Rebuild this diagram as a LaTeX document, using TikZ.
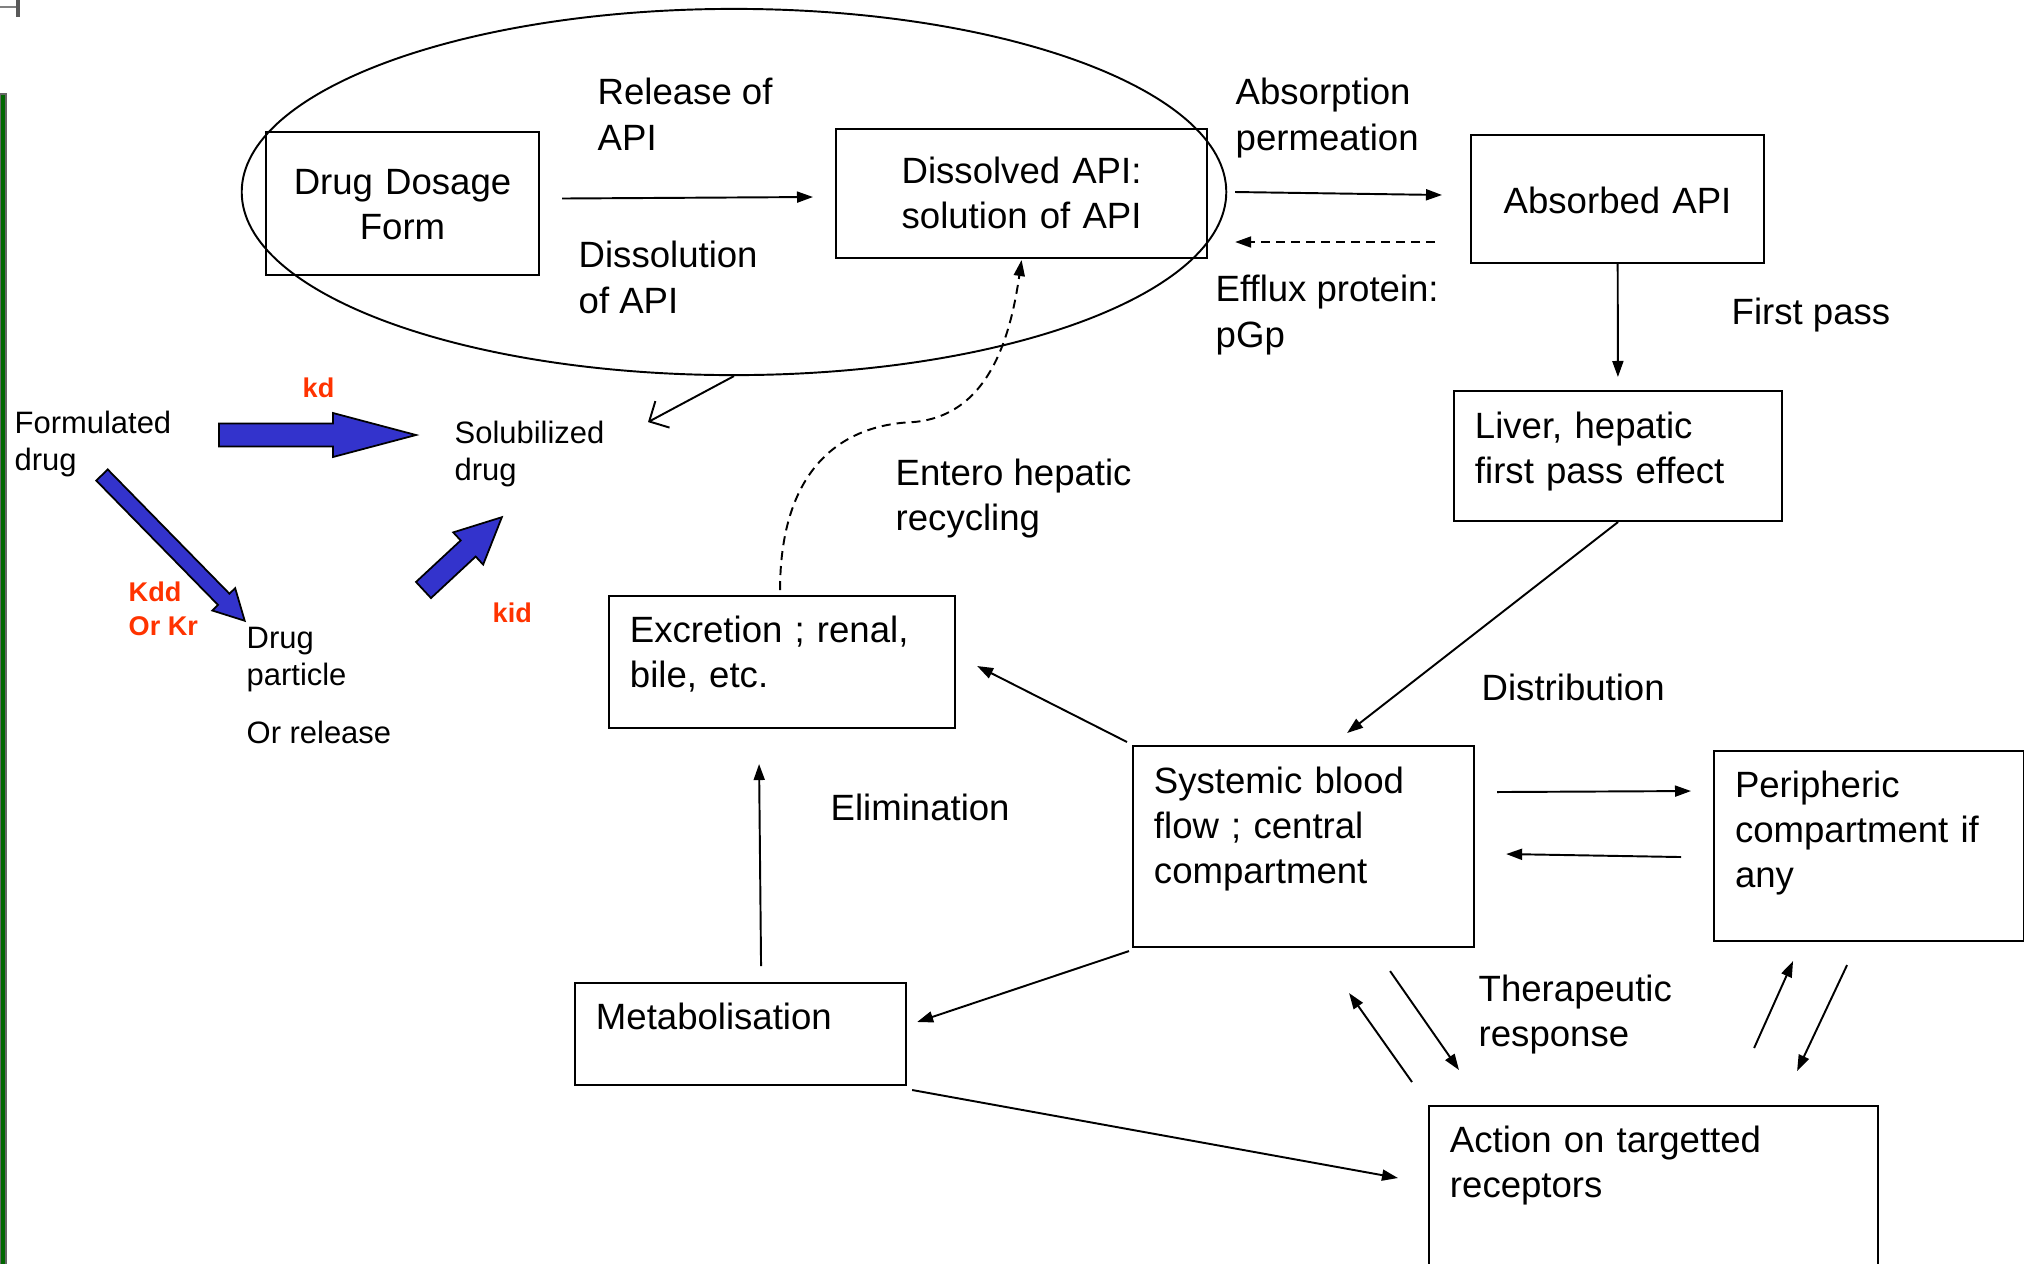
\documentclass[tikz,border=0pt]{standalone}
\usepackage{fontspec}
\setmainfont{Liberation Sans}
\usetikzlibrary{arrows.meta,shapes.geometric}
\definecolor{rateorange}{RGB}{255,51,0}
\definecolor{fatblue}{RGB}{51,51,204}
\definecolor{bargreen}{RGB}{0,102,0}
% block arrow: tail, angle, length, shaft half width, head half width, head length
\newcommand{\fatarrow}[6]{%
  \begin{scope}[shift={(#1)},rotate=#2]
    \draw[blockfill] (0,-#4)--({#3-#6},-#4)--({#3-#6},-#5)--(#3,0)--({#3-#6},#5)--({#3-#6},#4)--(0,#4)--cycle;
  \end{scope}}
\begin{document}
\begin{tikzpicture}[x=0.01cm,y=-0.01cm,
    box/.style={draw,line width=0.55pt,anchor=north west,inner xsep=0.21cm,inner ysep=0pt,align=left,font=\fontsize{10.4}{12.8}\selectfont},
    lbl/.style={anchor=base west,inner sep=0pt,align=left,font=\fontsize{10.4}{12.8}\selectfont},
    smalllbl/.style={lbl,font=\fontsize{8.8}{10.5}\selectfont},
    ratelbl/.style={lbl,text=rateorange,font=\fontsize{7.7}{9.4}\selectfont\bfseries},
    arr/.style={-{Triangle[length=0.16cm,width=0.11cm]},line width=0.55pt},
    efflux/.style={arr,dash pattern=on 0.09cm off 0.06cm},
    blockfill/.style={fill=fatblue,draw=black,line width=0.5pt}]
    \useasboundingbox (0,0) rectangle (2024,1263);
    \filldraw[fill=bargreen,draw=black!60,line width=0.4pt] (0,94) rectangle (6,1270);
    \draw[gray,line width=0.8pt] (0,7) -- (17,7);
    \draw[gray!70!black,line width=1.2pt] (18,0) -- (18,17);

    \node[draw,ellipse,line width=0.55pt,minimum width=9.84cm,minimum height=3.66cm,inner sep=0pt] (vessel) at (734,192) {};
    \node[box,text width=2.31cm,align=center,text height=0.62cm,text depth=0.81cm] (dosage) at (265,131) {Drug Dosage\\Form};
    \node[box,text width=3.29cm,align=center,text height=0.54cm,text depth=0.75cm] (dissolved) at (835,128) {Dissolved API:\\solution of API};
    \node[box,text width=2.51cm,align=center,text height=0.78cm,text depth=0.50cm] (absorbed) at (1470,134) {Absorbed API};
    \node[box,text width=2.86cm,text height=0.47cm,text depth=0.83cm] (liver) at (1453,390) {Liver, hepatic\\first pass effect};
    \node[box,text width=3.04cm,text height=0.46cm,text depth=0.86cm] (excretion) at (608,595) {Excretion ; renal,\\bile, etc.};
    \node[box,text width=2.99cm,text height=0.47cm,text depth=1.54cm] (systemic) at (1132,745) {Systemic blood\\flow ; central\\compartment};
    \node[box,text width=2.68cm,text height=0.46cm,text depth=1.44cm] (peripheric) at (1713,750) {Peripheric\\compartment if\\any};
    \node[box,text width=2.89cm,text height=0.46cm,text depth=0.56cm] (metab) at (574,982) {Metabolisation};
    \node[box,text width=4.07cm,text height=0.46cm,text depth=2.5cm] (action) at (1428,1105) {Action on targetted\\receptors};

    % labels sit on the baseline of their last line
    \node[lbl] (release) at (597,150) {Release of\\API};
    \node[lbl] (dissolution) at (578,313) {Dissolution\\of API};
    \node[lbl] (absorption) at (1235,150) {Absorption\\permeation};
    \node[lbl] (effluxlbl) at (1215,347) {Efflux protein:\\pGp};
    \node[lbl] (firstpass) at (1731,324) {First pass};
    \node[lbl] (entero) at (895,530) {Entero hepatic\\recycling};
    \node[lbl] (distribution) at (1481,700) {Distribution};
    \node[lbl] (elimination) at (830,820) {Elimination};
    \node[lbl] (therapeutic) at (1478,1046) {Therapeutic\\response};
    \node[smalllbl] (formulated) at (14,470) {Formulated\\drug};
    \node[smalllbl] (solubilized) at (454,480) {Solubilized\\drug};
    \node[smalllbl] (particle) at (246,685) {Drug\\particle};
    \node[smalllbl] (orrelease) at (246,743) {Or release};
    \node[ratelbl] (kd) at (302,397) {kd};
    \node[ratelbl] (kdd) at (128,635) {Kdd\\Or Kr};
    \node[ratelbl] (kid) at (492,622) {kid};

    \coordinate (kdtail) at (219,435);
    \coordinate (kddtail) at (102,475);
    \coordinate (kidtail) at (423.5,590);
    \fatarrow{kdtail}{0}{197}{11.5}{22}{83}
    \fatarrow{kddtail}{-45.6}{204}{8}{16}{30}
    \fatarrow{kidtail}{42.9}{107}{11}{22}{46}

    \draw[arr] ([shift={(22,-5)}]dosage.east) -- ([shift={(-22,3.5)}]dissolved.west);
    \draw[arr] ([shift={(27,-1.5)}]dissolved.east) -- ([shift={(-28,-4)}]absorbed.west);
    \draw[efflux] ([shift={(-35,43)}]absorbed.west) -- ([shift={(27,48.5)}]dissolved.east);
    \draw[arr,shorten >=0.13cm] (absorbed) -- (liver);
    \draw[arr] (liver.south) -- ([shift={(43.5,-12)}]systemic.north);
    \draw[arr] ([shift={(-5,-3)}]systemic.north west) -- ([shift={(21,4)}]excretion.east);
    \draw[arr] ([shift={(20.5,-16)}]metab.north) -- ([shift={(-23,35)}]excretion.south);
    \draw[arr] ([shift={(-3,3)}]systemic.south west) -- ([shift={(10,-12)}]metab.east);
    \draw[arr] ([shift={(5,4)}]metab.south east) -- ([shift={(-30,73)}]action.north west);
    \draw[arr] ([shift={(22,-54.5)}]systemic.east) -- ([shift={(-22,-55)}]peripheric.west);
    \draw[arr] ([shift={(-32,11)}]peripheric.west) -- ([shift={(31,7.5)}]systemic.east);
    \draw[arr] ([shift={(86.5,23)}]systemic.south) -- ([shift={(31,-35)}]action.north west);
    \draw[arr] ([shift={(-16,-23)}]action.north west) -- ([shift={(45.5,45)}]systemic.south);
    \draw[arr] ([shift={(100.5,-57)}]action.north) -- ([shift={(-76,19)}]peripheric.south);
    \draw[arr] ([shift={(-22,23)}]peripheric.south) -- ([shift={(143.5,-34)}]action.north);
    \draw[-{Straight Barb[length=0.15cm,width=0.3cm]},line width=0.55pt] (vessel.south) -- ([shift={(-86,46)}]vessel.south);
    \draw[efflux] ([shift={(-2,-5)}]excretion.north) .. controls +(0,-110) and +(-83,3) .. ([shift={(132,-173)}]excretion.north) .. controls +(77,-7) and +(-10.5,72) .. ([shift={(0,1)}]dissolved.south);
\end{tikzpicture}
\end{document}
